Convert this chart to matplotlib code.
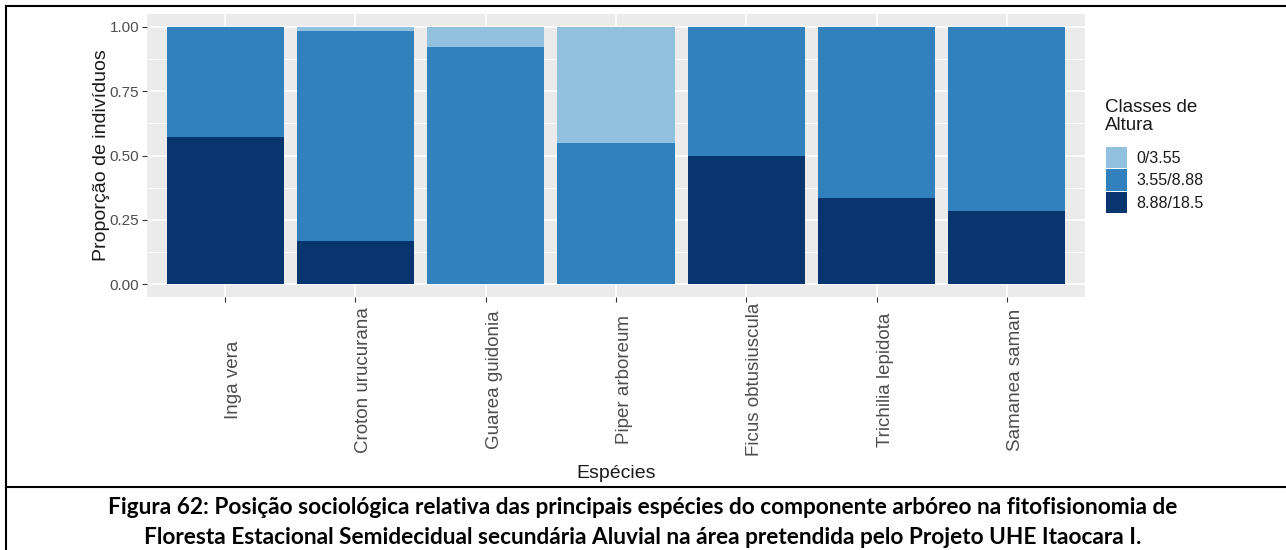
import numpy as np
import matplotlib
matplotlib.use('Agg')
from matplotlib import pyplot as plt
from matplotlib.patches import Patch
from matplotlib.lines import Line2D

plt.rcParams['font.family'] = ['Liberation Sans', 'DejaVu Sans']

# proporção de indivíduos por classe de altura em cada espécie
especies = ['Inga vera', 'Croton urucurana', 'Guarea guidonia', 'Piper arboreum',
            'Ficus obtusiuscula', 'Trichilia lepidota', 'Samanea saman']
classes = ['0/3.55', '3.55/8.88', '8.88/18.5']
prop_0_355 = [0.0, 0.018, 0.077, 0.45, 0.0, 0.0, 0.0]
prop_355_888 = [0.43, 0.815, 0.923, 0.55, 0.50, 0.667, 0.714]
prop_888_185 = [0.57, 0.167, 0.0, 0.0, 0.50, 0.333, 0.286]

cores = ['#92C1E0', '#3181BD', '#08356E']

W, H = 1286, 550

def fx(px):
    return px / W

def fy(py):
    return 1 - py / H

fig = plt.figure(figsize=(W / 100, H / 100), dpi=100)
ax = fig.add_axes([fx(147), fy(297), (1085 - 147) / W, (297 - 14) / H])

x = np.arange(1, len(especies) + 1)
base = np.zeros(len(especies))
# empilhado de baixo para cima: classe maior embaixo
for vals, cor in zip([prop_888_185, prop_355_888, prop_0_355], cores[::-1]):
    ax.bar(x, vals, width=0.9, bottom=base, color=cor, linewidth=0, zorder=3)
    base = base + np.array(vals)

ax.set_xlim(0.4, len(especies) + 0.6)
ax.set_ylim(-0.05, 1.05)
ax.set_facecolor('#EBEBEB')
for s in ax.spines.values():
    s.set_visible(False)

ax.set_yticks([0, 0.25, 0.5, 0.75, 1.0])
ax.set_yticklabels(['0.00', '0.25', '0.50', '0.75', '1.00'])
ax.set_yticks([0.125, 0.375, 0.625, 0.875], minor=True)
ax.grid(which='major', color='white', linewidth=1.2, zorder=1)
ax.grid(which='minor', axis='y', color='white', linewidth=0.6, zorder=1)
ax.set_axisbelow(True)

ax.tick_params(axis='y', which='major', colors='#333333', labelcolor='#4D4D4D',
               labelsize=11, length=3.5, width=0.8, pad=2)
ax.tick_params(axis='y', which='minor', length=0)
ax.set_xticks(x)
ax.set_xticklabels(especies, rotation=90, ha='left', va='center')
ax.tick_params(axis='x', colors='#333333', labelcolor='#4D4D4D',
               labelsize=13.5, length=3.5, width=0.8, pad=56)

ax.set_ylabel('Proporção de indivíduos', fontsize=14, color='#1A1A1A')
ax.yaxis.set_label_coords(-0.039, 0.5)
ax.set_xlabel('Espécies', fontsize=14, color='#1A1A1A')
ax.xaxis.set_label_coords(0.5, -0.595)

# legenda: título à parte para controlar o espaço até as chaves
fig.text(fx(1105), fy(99), 'Classes de\nAltura', ha='left', va='top',
         fontsize=13.5, color='#1A1A1A', linespacing=1.1)
handles = [Patch(facecolor=c, edgecolor='none') for c in cores]
leg = ax.legend(handles, classes, loc='upper left',
                bbox_to_anchor=(fx(1106), fy(147)), bbox_transform=fig.transFigure,
                frameon=False, borderpad=0, borderaxespad=0, fontsize=11.5,
                handlelength=1.3, handleheight=1.68,
                handletextpad=0.6, labelspacing=0.07)
for t in leg.get_texts():
    t.set_color('#1A1A1A')

# moldura da figura e linha que separa a legenda
for xs, ys in [([6, 6], [6, H]), ([6, W], [6, 6]), ([6, W], [487, 487])]:
    fig.add_artist(Line2D([fx(v) for v in xs], [fy(v) for v in ys],
                          transform=fig.transFigure, color='black', linewidth=1.5))

linha1 = ('Figura 62: Posição sociológica relativa das principais espécies do '
          'componente arbóreo na fitofisionomia de')
linha2 = ('Floresta Estacional Semidecidual secundária Aluvial na área pretendida '
          'pelo Projeto UHE Itaocara I.')
fig.text(0.5, fy(507), linha1, ha='center', va='center', fontsize=16.3,
         fontweight='bold', family=['Lato', 'DejaVu Sans'])
fig.text(0.5, fy(538), linha2, ha='center', va='center', fontsize=16.3,
         fontweight='bold', family=['Lato', 'DejaVu Sans'])

fig.savefig('out.png', dpi=100)
